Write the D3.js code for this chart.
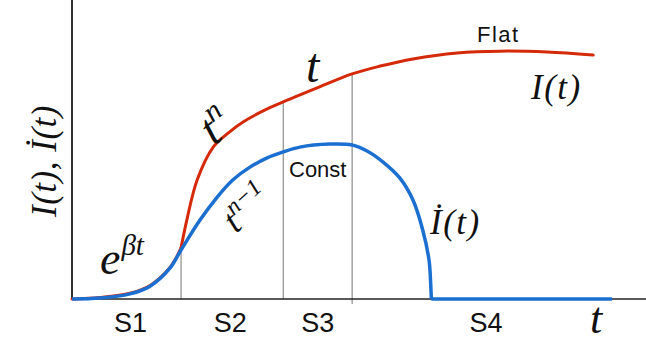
<!DOCTYPE html>
<html>
<head>
<meta charset="utf-8">
<script src="https://cdn.jsdelivr.net/npm/d3@7"></script>
<style>
  body { margin: 0; background: #fff; }
  .math { font-family: "Liberation Serif", "Times New Roman", serif; font-style: italic; fill: #111; }
  .sans { font-family: "Liberation Sans", Arial, sans-serif; fill: #111; }
</style>
</head>
<body>
<div id="chart"></div>
<script>
// I(t): early exponential part, then the power-law / linear / flat part
const redT1 = [0, 4.9, 10.1, 13.6, 17.1, 19.0];
const redI1 = [0, 0.5, 1.9, 4.5, 10.6, 17.1];
const redT2 = [19.0, 20.0, 21.8, 24.6, 27.2, 29.8, 33.3, 36.8, 42.7, 48.8, 53.7, 59.4, 67.1, 74.6, 82.8, 90.8];
const redI2 = [17.1, 26.4, 39.8, 50.8, 55.5, 59.2, 62.9, 65.9, 70.6, 75.3, 77.9, 80.3, 82.3, 82.9, 82.6, 81.6];

// dI/dt
const blueT = [0, 4.9, 10.1, 13.6, 17.1, 19.0, 22.3, 25.3, 28.0, 31.0, 34.0, 36.8, 39.7, 44.9, 48.8, 51.4, 54.2, 57.1, 59.4, 61.1, 62.2, 62.5, 62.6];
const blueI = [0, 0.3, 1.7, 4.3, 10.4, 16.4, 26.4, 34.1, 39.8, 44.1, 47.2, 49.2, 50.8, 51.8, 51.5, 49.5, 45.8, 40.5, 33.1, 23.1, 13.0, 4.7, 0];
const blueFlat = [62.6, 94.1];

// stage boundaries and names
const stageBounds = [0, 19.0, 36.8, 48.8, 94.1];
const stageNames = ["S1", "S2", "S3", "S4"];

const W = 646, H = 347;
const svg = d3.select("#chart").append("svg")
  .attr("width", W).attr("height", H);

const x = d3.scaleLinear().domain([0, 100]).range([72, 646]);
const y = d3.scaleLinear().domain([0, 100]).range([299, 0]);

const redT = redT1.concat(redT2.slice(1));
const redI = redI1.concat(redI2.slice(1));

// interpolate red height at t for guide lines
function redAt(t) {
  const i = d3.bisectLeft(redT, t);
  if (i <= 0) return redI[0];
  if (i >= redT.length) return redI[redI.length - 1];
  const t0 = redT[i - 1], t1 = redT[i];
  return redI[i - 1] + (redI[i] - redI[i - 1]) * (t - t0) / (t1 - t0);
}

// guide lines between stages
const guides = stageBounds.slice(1, 4);
svg.append("g").selectAll("line")
  .data(guides)
  .enter().append("line")
  .attr("x1", d => x(d)).attr("x2", d => x(d))
  .attr("y1", d => y(redAt(d)))
  .attr("y2", (d, i) => i === 2 ? y(0) + 5 : y(0))
  .attr("stroke", "#777")
  .attr("stroke-width", 1);

// axes
svg.append("line")
  .attr("x1", x(0)).attr("x2", x(100))
  .attr("y1", y(0)).attr("y2", y(0))
  .attr("stroke", "#222").attr("stroke-width", 1.5);
svg.append("line")
  .attr("x1", x(0)).attr("x2", x(0))
  .attr("y1", y(0)).attr("y2", y(100))
  .attr("stroke", "#333").attr("stroke-width", 2);

const line = d3.line().x(d => x(d[0])).y(d => y(d[1])).curve(d3.curveCatmullRom.alpha(0.5));
const zip = (a, b) => a.map((t, i) => [t, b[i]]);

[zip(redT1, redI1), zip(redT2, redI2)].forEach(seg => {
  svg.append("path")
    .datum(seg)
    .attr("d", line)
    .attr("fill", "none")
    .attr("stroke", "#d42a0a")
    .attr("stroke-width", 3)
    .attr("stroke-linecap", "round");
});

svg.append("path")
  .datum(zip(blueT, blueI))
  .attr("d", line)
  .attr("fill", "none")
  .attr("stroke", "#1a6fd0")
  .attr("stroke-width", 3.5);

svg.append("path")
  .datum(blueFlat.map(t => [t, 0]))
  .attr("d", d3.line().x(d => x(d[0])).y(d => y(d[1])))
  .attr("fill", "none")
  .attr("stroke", "#1a6fd0")
  .attr("stroke-width", 3.5);

// stage labels
svg.append("g").selectAll("text")
  .data(stageNames)
  .enter().append("text")
  .attr("class", "sans")
  .attr("x", (d, i) => x((stageBounds[i] + stageBounds[i + 1]) / 2) + (i === 0 ? 4 : i === 1 ? -2 : i === 3 ? 4 : 0))
  .attr("y", 332)
  .attr("text-anchor", "middle")
  .style("font-size", "27px")
  .text(d => d);

// annotations
svg.append("text").attr("class", "sans")
  .attr("x", 477).attr("y", 42)
  .style("font-size", "22px").style("letter-spacing", "1.5px")
  .text("Flat");

svg.append("text").attr("class", "sans")
  .attr("x", 289).attr("y", 177)
  .style("font-size", "22px")
  .text("Const");

svg.append("text").attr("class", "math")
  .attr("x", 306).attr("y", 82)
  .style("font-size", "48px")
  .text("t");

svg.append("text").attr("class", "math")
  .attr("x", 590).attr("y", 333)
  .style("font-size", "44px")
  .text("t");

svg.append("text").attr("class", "math")
  .attr("x", 531).attr("y", 99)
  .style("font-size", "35px").style("letter-spacing", "1.5px")
  .text("I(t)");

svg.append("text").attr("class", "math")
  .attr("x", 430).attr("y", 234)
  .style("font-size", "35px").style("letter-spacing", "1.5px")
  .text("\u0130(t)");

// e^{beta t}
const eb = svg.append("text").attr("class", "math")
  .attr("x", 100).attr("y", 274);
eb.append("tspan").style("font-size", "46px").text("e");
eb.append("tspan").style("font-size", "29px").attr("dy", -19).attr("dx", 1).text("\u03b2t");

// t^n (rotated)
const tn = svg.append("text").attr("class", "math")
  .attr("transform", "translate(214,146) rotate(-38)");
tn.append("tspan").style("font-size", "46px").text("t");
tn.append("tspan").style("font-size", "30px").attr("dy", -19).text("n");

// t^{n-1} (rotated)
const tn1 = svg.append("text").attr("class", "math")
  .attr("transform", "translate(236,234) rotate(-42)");
tn1.append("tspan").style("font-size", "36px").text("t");
tn1.append("tspan").style("font-size", "24px").attr("dy", -15).text("n\u22121");

// y label
svg.append("text").attr("class", "math")
  .attr("transform", "translate(56,161) rotate(-90)")
  .attr("text-anchor", "middle")
  .style("font-size", "35px").style("letter-spacing", "0.5px")
  .text("I(t), \u0130(t)");
</script>
</body>
</html>
